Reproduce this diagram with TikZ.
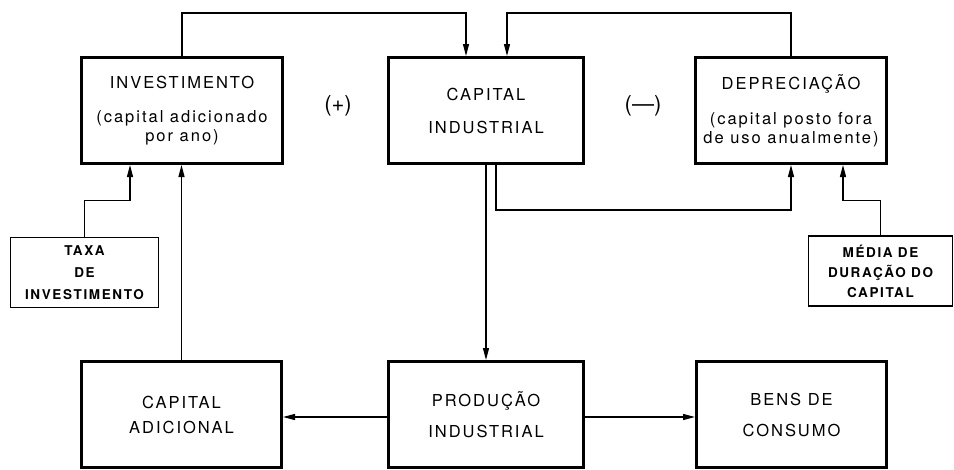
\documentclass[tikz,border=0pt]{standalone}
\usepackage{fontspec}
\usetikzlibrary{arrows.meta,calc,positioning}
\newfontfamily\diagfont{TeX Gyre Heros}[LetterSpace=12]
\newfontfamily\signfont{TeX Gyre Heros}

\begin{document}
\begin{tikzpicture}[x=1pt,y=-1pt,
  font=\diagfont\fontsize{16.5}{19}\selectfont,
  flowbox/.style={draw,line width=3pt,align=center,inner sep=0pt,minimum height=106pt},
  databox/.style={draw,line width=1.6pt,align=center,inner sep=0pt,minimum height=70pt,
    font=\diagfont\bfseries\fontsize{13.5}{22}\selectfont},
  loopsign/.style={font=\signfont\fontsize{22}{24}\selectfont},
  link/.style={line width=1.3pt,-{Triangle[length=12pt,width=6pt]}}]
  \fill[white] (0,0) rectangle (954,469);
  \path[use as bounding box] (0,0) rectangle (954,469);

  % upper row: the stock and its two flows
  \node[flowbox,minimum width=201pt] (invest) at (182,110.5)
    {INVESTIMENTO\\[15pt](capital adicionado\\por ano)};
  \node[flowbox,minimum width=195pt] (capind) at (486,110.5)
    {CAPITAL\\[14pt]INDUSTRIAL};
  \node[flowbox,minimum width=191pt] (deprec) at (791,110.5)
    {DEPRECIAÇÃO\\[16pt](capital posto fora\\de uso anualmente)};
  \node[loopsign] (plus) at (338,106) {(+)};
  \node[loopsign] (minus) at (643,106) {(—)};

  % rates
  \node[databox,minimum width=148pt] (taxa) at (84.5,272.5)
    {TAXA\\DE\\INVESTIMENTO};
  \node[databox,minimum width=144pt] (media) at (880.5,271)
    {MÉDIA DE\\[-2pt]DURAÇÃO DO\\[-2pt]CAPITAL};

  % lower row
  \node[flowbox,minimum width=200pt] (capadd) at (181.5,414.5)
    {CAPITAL\\[6pt]ADICIONAL};
  \node[flowbox,minimum width=195pt] (produc) at (486,414.5)
    {PRODUÇÃO\\[12pt]INDUSTRIAL};
  \node[flowbox,minimum width=190pt] (bens) at (791.5,414.5)
    {BENS DE\\[12pt]CONSUMO};

  \coordinate (topline) at (0,13);
  \draw[link] (invest.north) -- (invest.north |- topline) -| ([xshift=-20pt]capind.north);
  \draw[link] (deprec.north) -- (deprec.north |- topline) -| ([xshift=21pt]capind.north);
  \draw[link] (taxa.north) -- ++(0,-36) -| ([xshift=-52pt]invest.south);
  \draw[link] (capadd.north) -- (capadd.north |- invest.south);
  \draw[link] (capind.south) -- (produc.north);
  \draw[link] ([xshift=10pt]capind.south) -- ++(0,45) -| (deprec.south);
  \draw[link] (media.north) -- ++(0,-35) -| ([xshift=52pt]deprec.south);
  \draw[link] ([yshift=-2.5pt]produc.west) -- ([yshift=-2.5pt]capadd.east);
  \draw[link] ([yshift=-2.5pt]produc.east) -- ([yshift=-2.5pt]bens.west);
\end{tikzpicture}
\end{document}
